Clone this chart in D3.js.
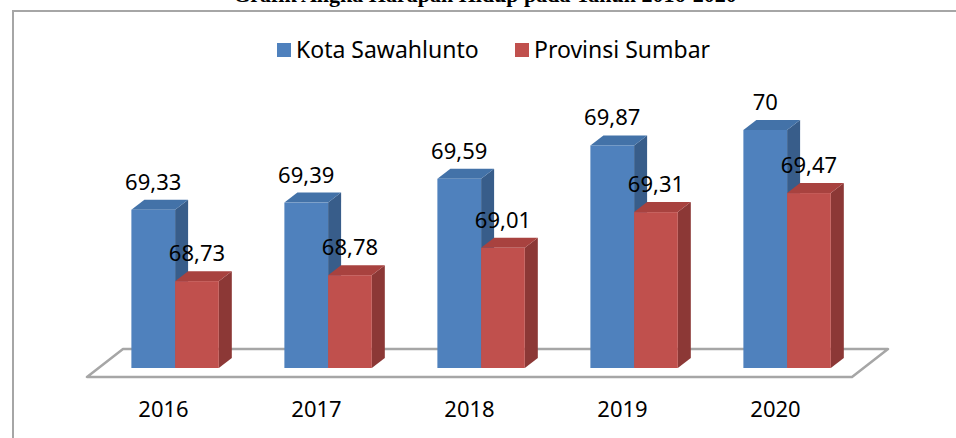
<!DOCTYPE html>
<html>
<head>
<meta charset="utf-8">
<script src="https://cdn.jsdelivr.net/npm/d3@7"></script>
<style>
  body { margin: 0; background: #fff; }
  svg { display: block; }
</style>
</head>
<body>
<div id="chart"></div>
<script>
// data
const years = ["2016", "2017", "2018", "2019", "2020"];
const seriesNames = ["Kota Sawahlunto", "Provinsi Sumbar"];
const kotaValues = [69.33, 69.39, 69.59, 69.87, 70];
const provValues = [68.73, 68.78, 69.01, 69.31, 69.47];
const titleText = "Grafik Angka Harapan Hidup pada Tahun 2016-2020";

const width = 956, height = 438;

// colours per series: front, side, top
const colors = {
  "Kota Sawahlunto": { front: "#4f81bd", side: "#385d8a", top: "#4372a8" },
  "Provinsi Sumbar": { front: "#c0504d", side: "#8c3836", top: "#a8423f" }
};

// floor and depth settings (oblique 3D)
const floor = { left: 87, right: 852, y: 377, dx: 36, dy: -28 };
const front = { dx: 11.6, dy: -9 };   // bar front plane inside the floor
const depth = { dx: 13, dy: -10 };    // bar depth

const rows = years.map((y, i) => ({
  year: y,
  values: [
    { key: seriesNames[0], value: kotaValues[i] },
    { key: seriesNames[1], value: provValues[i] }
  ]
}));

const svg = d3.select("#chart").append("svg")
  .attr("width", width)
  .attr("height", height);

// title, mostly cut off at the top (as in the source picture)
svg.append("text")
  .attr("x", 485)
  .attr("y", 2)
  .attr("text-anchor", "middle")
  .attr("font-family", "'Liberation Serif', serif")
  .attr("font-weight", "bold")
  .attr("font-size", 22)
  .attr("fill", "#000")
  .text(titleText);

// chart frame
svg.append("path")
  .attr("d", `M13,${height + 5} L13,11 L${width + 5},11`)
  .attr("fill", "none")
  .attr("stroke", "#a6a6a6")
  .attr("stroke-width", 2);

const x = d3.scaleBand()
  .domain(years)
  .range([floor.left, floor.right]);

const xs = d3.scaleBand()
  .domain(seriesNames)
  .range([0, x.bandwidth()])
  .paddingInner(0)
  .paddingOuter(0.75);

const y = d3.scaleLinear()
  .domain([68, 70])
  .range([floor.y + front.dy, 130]);

// floor
svg.append("path")
  .attr("d", [
    [floor.left, floor.y],
    [floor.right, floor.y],
    [floor.right + floor.dx, floor.y + floor.dy],
    [floor.left + floor.dx, floor.y + floor.dy]
  ].map((p, i) => (i ? "L" : "M") + p.join(",")).join("") + "Z")
  .attr("fill", "#fff")
  .attr("stroke", "#a6a6a6")
  .attr("stroke-width", 2.5)
  .attr("stroke-linejoin", "round");

const poly = pts => pts.map((p, i) => (i ? "L" : "M") + p[0] + "," + p[1]).join("") + "Z";

const groups = svg.selectAll("g.year")
  .data(rows)
  .join("g")
  .attr("class", "year")
  .attr("transform", d => `translate(${x(d.year) + front.dx},${front.dy})`);

const bars = groups.selectAll("g.bar")
  .data(d => d.values)
  .join("g")
  .attr("class", "bar");

bars.each(function (d) {
  const g = d3.select(this);
  const x0 = xs(d.key), x1 = x0 + xs.bandwidth();
  const yb = y(68) - front.dy, yt = y(d.value) - front.dy;
  const c = colors[d.key];
  // side
  g.append("path")
    .attr("d", poly([[x1, yb], [x1 + depth.dx, yb + depth.dy], [x1 + depth.dx, yt + depth.dy], [x1, yt]]))
    .attr("fill", c.side);
  // top
  g.append("path")
    .attr("d", poly([[x0, yt], [x1, yt], [x1 + depth.dx, yt + depth.dy], [x0 + depth.dx, yt + depth.dy]]))
    .attr("fill", c.top);
  // front
  g.append("rect")
    .attr("x", x0)
    .attr("y", yt)
    .attr("width", xs.bandwidth())
    .attr("height", yb - yt)
    .attr("fill", c.front);
});

// value labels
groups.selectAll("text.val")
  .data(d => d.values)
  .join("text")
  .attr("class", "val")
  .attr("x", d => xs(d.key) + xs.bandwidth() / 2)
  .attr("y", d => y(d.value) - front.dy - 20)
  .attr("text-anchor", "middle")
  .attr("font-family", "'Noto Sans', sans-serif")
  .attr("font-size", 22)
  .attr("fill", "#000")
  .text(d => String(d.value).replace(".", ","));

// category labels
svg.selectAll("text.cat")
  .data(years)
  .join("text")
  .attr("class", "cat")
  .attr("x", d => x(d) + x.bandwidth() / 2)
  .attr("y", 417)
  .attr("text-anchor", "middle")
  .attr("font-family", "'Noto Sans', sans-serif")
  .attr("font-size", 22)
  .attr("fill", "#000")
  .text(d => d);

// legend
const legendX = [277, 515];
const legend = svg.selectAll("g.legend")
  .data(seriesNames)
  .join("g")
  .attr("class", "legend")
  .attr("transform", (d, i) => `translate(${legendX[i]},43)`);

legend.append("rect")
  .attr("width", 14)
  .attr("height", 14)
  .attr("fill", d => colors[d].front);

legend.append("text")
  .attr("x", 19)
  .attr("y", 15)
  .attr("font-family", "'Noto Sans', sans-serif")
  .attr("font-size", 23)
  .attr("fill", "#000")
  .text(d => d);
</script>
</body>
</html>
